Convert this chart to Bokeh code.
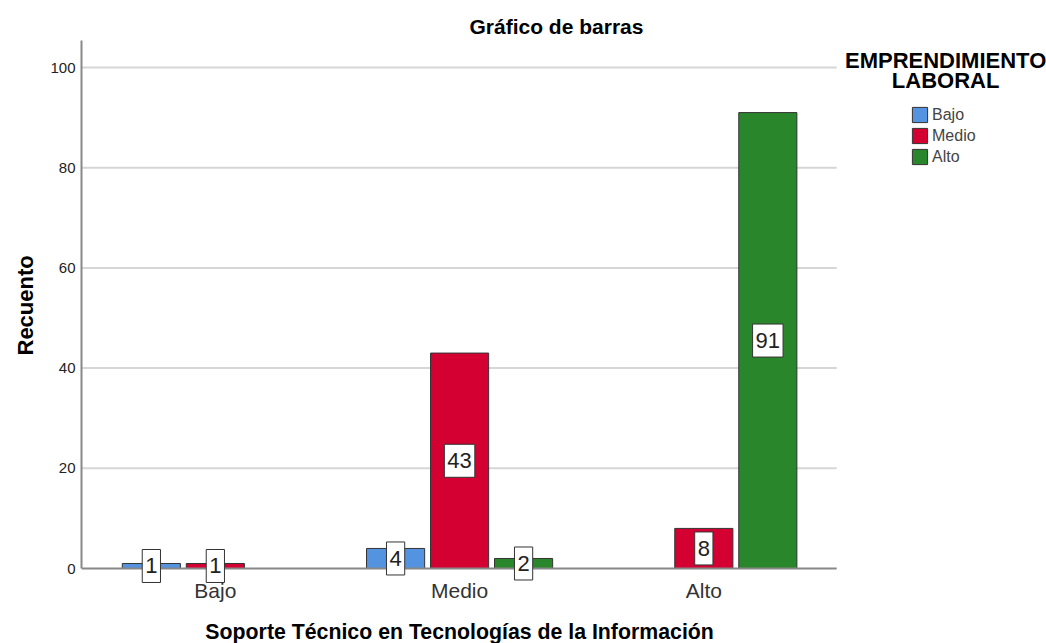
from bokeh.plotting import figure
from bokeh.models import (ColumnDataSource, Legend, LegendItem,
                          FixedTicker, Range1d, Label, Title)
from bokeh.core.properties import value
from bokeh.embed import file_html
from bokeh.resources import INLINE

# ---- data ----
categories = ["Bajo", "Medio", "Alto"]
series_names = ["Bajo", "Medio", "Alto"]
serie_bajo = [1, 4, 0]
serie_medio = [1, 43, 8]
serie_alto = [0, 2, 91]
colors = ["#5493E0", "#D50032", "#2A862A"]
y_ticks = [0, 20, 40, 60, 80, 100]

FONT = "Liberation Sans"

# axis extents (data units)
X_LEFT, X_AXIS_END = -0.548, 2.544
Y_TOP = 105.39

p = figure(width=1046, height=643, output_backend="svg", toolbar_location=None,
           x_range=Range1d(X_LEFT, 3.403), y_range=Range1d(-14.97, Y_TOP),
           x_axis_location=None,
           min_border_left=80, min_border_right=0, min_border_top=40,
           min_border_bottom=0)
p.outline_line_color = None
p.background_fill_color = "white"

p.title.text = "Gráfico de barras"
p.title.text_font = FONT
p.title.text_font_size = "21px"
p.title.text_font_style = "bold"
p.title.align = "left"
p.title.offset = 388
p.title.standoff = 5
p.title.text_color = "black"

# grid lines
grid_y = [t for t in y_ticks if t > 0]
p.segment(x0=[X_LEFT] * len(grid_y), y0=grid_y, x1=[X_AXIS_END] * len(grid_y),
          y1=grid_y, line_color="#d6d6d6", line_width=2)

offset = 0.262
bar_w = 0.238
items = []
all_series = [serie_bajo, serie_medio, serie_alto]
for j, (name, vals) in enumerate(zip(series_names, all_series)):
    xs, ys = [], []
    for i, v in enumerate(vals):
        if v > 0:
            xs.append(i + (j - 1) * offset)
            ys.append(v)
    src = ColumnDataSource(dict(x=xs, top=ys))
    r = p.vbar(x="x", top="top", bottom=0, width=bar_w, source=src,
               fill_color=colors[j], line_color="#333333", line_width=1)
    items.append(LegendItem(label=name, renderers=[r]))
    for xx, v in zip(xs, ys):
        p.add_layout(Label(x=xx, y=v / 2, text=str(v), text_align="center",
                           text_baseline="middle", text_font=FONT,
                           text_font_size="22px", text_color="#222222",
                           background_fill_color="white",
                           border_line_color="#333333", padding=(3, 9)))

# x axis line
p.segment(x0=[X_LEFT], y0=[0], x1=[X_AXIS_END], y1=[0],
          line_color="#888888", line_width=2)

# x tick labels and x title
p.text(x=list(range(len(categories))), y=[-4.4] * len(categories), text=categories,
       text_align="center", text_baseline="middle", text_font=value(FONT),
       text_font_size="21px", text_color="#333333")
p.text(x=[1], y=[-12.75], text=["Soporte Técnico en Tecnologías de la Información"],
       text_align="center", text_baseline="middle", text_font=value(FONT),
       text_font_size="21.3px", text_font_style="bold", text_color="black")

# y axis
p.yaxis.ticker = FixedTicker(ticks=y_ticks)
p.yaxis.bounds = (0, Y_TOP)
p.yaxis.major_label_text_font = FONT
p.yaxis.major_label_text_font_size = "15px"
p.yaxis.major_label_text_color = "#222222"
p.yaxis.major_tick_line_color = None
p.yaxis.major_tick_out = 0
p.yaxis.major_tick_in = 0
p.yaxis.minor_tick_line_color = None
p.yaxis.minor_tick_out = 0
p.yaxis.axis_line_color = "#888888"
p.yaxis.axis_line_width = 2
p.yaxis.major_label_standoff = 6
p.add_layout(Title(text="Recuento", align="left", offset=288, text_font=FONT,
                   text_font_size="22px", text_font_style="bold",
                   text_color="black", standoff=20), "left")

p.xgrid.grid_line_color = None
p.ygrid.grid_line_color = None

legend = Legend(items=items, location=(829, 477), orientation="vertical",
                glyph_width=19, glyph_height=19, label_height=15, spacing=2,
                label_text_font=FONT, label_text_font_size="16px",
                label_standoff=3, padding=0, margin=0,
                border_line_color=None, background_fill_alpha=0)
p.add_layout(legend)

for txt, yy in [("EMPRENDIMIENTO", 101.3), ("LABORAL", 97.5)]:
    p.add_layout(Label(x=2.99, y=yy, text=txt,
                       text_align="center", text_baseline="middle",
                       text_font=FONT, text_font_size="22px",
                       text_font_style="bold", text_color="black"))

open("out.html", "w").write(file_html(p, INLINE))
